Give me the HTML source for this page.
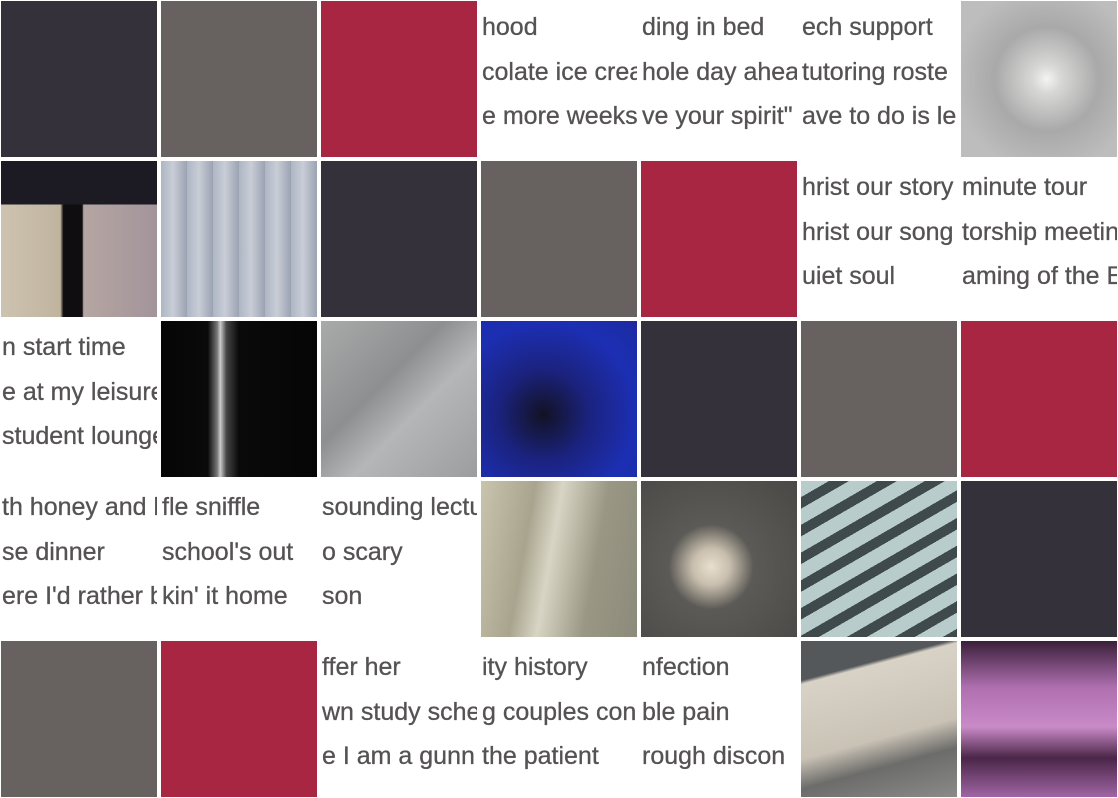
<!DOCTYPE html>
<html><head><meta charset="utf-8"><style>
body{margin:0;width:1118px;height:798px;overflow:hidden;background:#fff;position:relative}
.t{position:absolute;width:156px;height:156px;overflow:hidden}
.txt{background:#fff}
.txt div{position:absolute;left:1px;white-space:nowrap;font:25px "Liberation Sans",sans-serif;color:#555254;-webkit-text-stroke:0.3px #555254}
.l1{top:12px}.l2{top:57px}.l3{top:101px}
.dark{background:#35313a}.grey{background:#67625f}.red{background:#a82641}
</style></head><body>
<div id="grid"></div>
<script>
const tiles=[
["dark"],["grey"],["red"],["t","hood","colate ice crear","e more weeks"],["t","ding in bed","hole day aheay","ve your spirit\""],["t","ech support","tutoring roste","ave to do is le"],["p","radial-gradient(circle at 55% 50%,#f4f4f2 0,#d8d8d6 12%,#a9a9aa 45%,#bdbdbd 80%)"],
["p","linear-gradient(180deg,#1c1a22 0,#1c1a22 28%,transparent 28%),linear-gradient(90deg,#cdc3b0 0,#c0b49f 38%,#0f0d0f 40%,#0f0d0f 52%,#b5a6a2 53%,#a2949a 100%)"],["p","repeating-linear-gradient(90deg,#aeb6c4 0,#c8cdd6 12px,#9ba3b2 26px),#aab"],["dark"],["grey"],["red"],["t","hrist our story","hrist our song","uiet soul"],["t","minute tour","torship meeting","aming of the ED"],
["t","n start time","e at my leisure","student lounge"],["p","linear-gradient(90deg,#050505 0,#0a0a0a 30%,#777 36%,#ccc 38%,#444 42%,#0a0a0a 50%,#050505 100%)"],["p","linear-gradient(135deg,#a9aaaa 0,#8e8f90 40%,#b5b6b8 60%,#9c9d9e 100%)"],["p","radial-gradient(circle at 40% 60%,#121224 0,#1b2380 35%,#1c2fb4 70%,#1d2aa0 100%)"],["dark"],["grey"],["red"],
["t","th honey and le","se dinner","ere I'd rather be"],["t","fle sniffle","school's out","kin' it home"],["t","sounding lectu","o scary","son"],["p","linear-gradient(100deg,#c9c4ad 0,#a8a48e 30%,#d8d5c4 45%,#9a9784 70%,#8c8a7a 100%)"],["p","radial-gradient(circle at 45% 55%,#e9dfcf 0,#c9bfae 15%,#5c5a56 35%,#4a4845 100%)"],["p","repeating-linear-gradient(150deg,#b8cccc 0,#b8cccc 14px,#3f4a4c 14px,#3f4a4c 24px)"],["dark"],
["grey"],["red"],["t","ffer her","wn study sche","e I am a gunn"],["t","ity history","g couples con","the patient"],["t","nfection","ble pain","rough discon"],["p","linear-gradient(165deg,#55585a 0,#55585a 20%,#d9d3c7 22%,#c9c2b5 60%,#6c6c6a 75%,#8a8a88 100%)"],["p","linear-gradient(180deg,#3a1f3a 0,#b070b0 30%,#c98ac8 55%,#4a2648 75%,#a065a4 100%)"]
];
const g=document.getElementById('grid');
tiles.forEach((t,i)=>{
 const d=document.createElement('div');
 const c=i%7,r=Math.floor(i/7);
 d.style.left=(c*160+1)+'px';d.style.top=(r*160+1)+'px';
 if(t[0]=='t'){d.className='t txt';
  
  
  for(let k=1;k<4;k++){const s=document.createElement('div');s.className='l'+k;s.textContent=t[k];
   
   
   d.appendChild(s);}
 } else if(t[0]=='p'){d.className='t';d.style.background=t[1];
  
  
 } else {d.className='t '+t[0];
  
  }
 g.appendChild(d);
});
</script>
</body></html>
